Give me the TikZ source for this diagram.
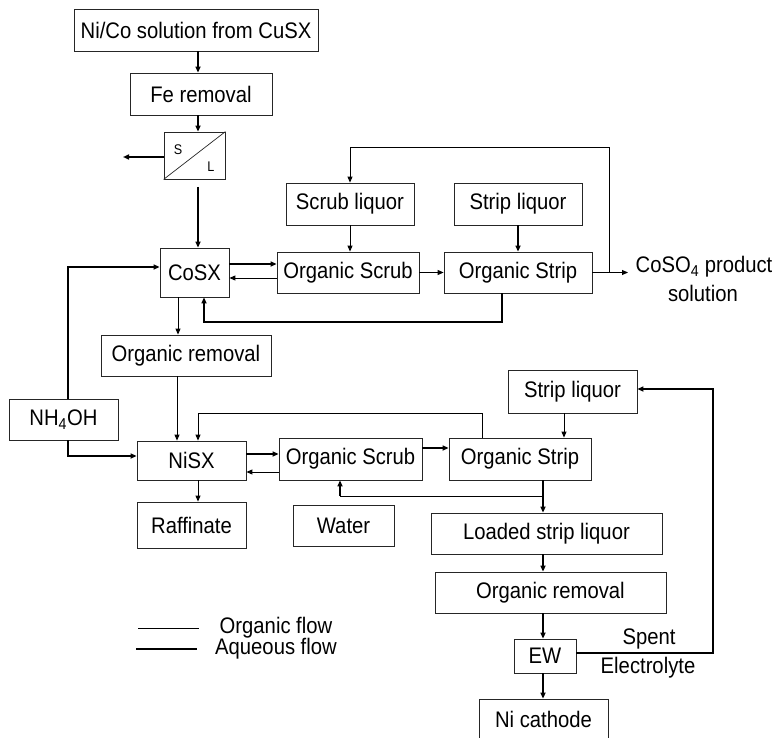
\documentclass[tikz,border=0pt]{standalone}
\usepackage{fontspec}
\setmainfont{Liberation Sans}[FakeStretch=0.9]
\usetikzlibrary{arrows.meta}

\begin{document}
\begin{tikzpicture}[x=1pt,y=-1pt,
  box/.style={draw=black!85, line width=0.8pt, inner sep=0pt, font=\fontsize{22.5}{23}\selectfont},
  lbl/.style={inner sep=0pt, font=\fontsize{22.5}{23}\selectfont},
  small/.style={inner sep=0pt, font=\fontsize{14}{14}\selectfont},
  org/.style={line width=0.9pt},
  mid/.style={line width=1.5pt},
  aq/.style={line width=2.4pt},
  tip/.style={-{Triangle[length=6pt,width=5pt]}},
]
\useasboundingbox (0,0) rectangle (776,738);

% ---------- feed and iron removal ----------
\node[box,minimum width=244pt,minimum height=42pt] (src) at (196,30) {Ni/Co solution from CuSX};
\node[box,minimum width=142pt,minimum height=42pt] (fe) at (201,94) {Fe removal};
\node[draw=black!85,line width=0.8pt,inner sep=0pt,minimum width=61pt,minimum height=47pt] (sl) at (194.5,155.5) {};
\draw[line width=0.7pt,black!85] (sl.south west) -- (sl.north east);
\node[small] (slS) at (178,150) {S};
\node[small] (slL) at (211,167) {L};

% ---------- cobalt circuit ----------
\node[box,minimum width=69pt,minimum height=49pt] (cosx) at (194.5,272.5) {CoSX};
\node[box,minimum width=142pt,minimum height=41pt] (coscrub) at (348,272.5) {Organic Scrub};
\node[box,minimum width=148pt,minimum height=41pt] (costrip) at (518,272.5) {Organic Strip};
\node[box,minimum width=128pt,minimum height=42pt] (scrubliq) at (350,204) {Scrub liquor};
\node[box,minimum width=128pt,minimum height=42pt] (stripliq) at (518,204) {Strip liquor};
\node[box,minimum width=170pt,minimum height=41pt] (orgrem1) at (186,355.5) {Organic removal};
\node[lbl] (coso) at (704,267) {CoSO\textsubscript{4} product};
\node[lbl] (cosol) at (703,293) {solution};

% ---------- nickel circuit ----------
\node[box,minimum width=109pt,minimum height=41pt] (nh4oh) at (63.5,419.5) {NH\textsubscript{4}OH};
\node[box,minimum width=109pt,minimum height=39pt] (nisx) at (191.5,460.5) {NiSX};
\node[box,minimum width=143pt,minimum height=42pt] (niscrub) at (350.5,459) {Organic Scrub};
\node[box,minimum width=142pt,minimum height=42pt] (nistrip) at (520,459) {Organic Strip};
\node[box,minimum width=129pt,minimum height=43pt] (nistripliq) at (572.5,391.5) {Strip liquor};
\node[box,minimum width=231pt,minimum height=41pt] (loaded) at (546.5,533.5) {Loaded strip liquor};
\node[box,minimum width=109pt,minimum height=46pt] (raff) at (191.5,525) {Raffinate};
\node[box,minimum width=101pt,minimum height=41pt] (water) at (343.5,525.5) {Water};
\node[box,minimum width=231pt,minimum height=41pt] (orgrem2) at (550.5,592.5) {Organic removal};
\node[box,minimum width=62pt,minimum height=34pt] (ew) at (545,656) {EW};
\node[box,minimum width=129pt,minimum height=40pt] (cathode) at (543.5,719) {Ni cathode};
\node[lbl] (spent) at (649,639) {Spent};
\node[lbl] (electro) at (648,668) {Electrolyte};

% ---------- helper coordinates ----------
\coordinate (xa) at (198,0);
\coordinate (solids) at (123,157);
\coordinate (liq) at (198,187);
\coordinate (xorg) at (178,0);
\coordinate (xorgb) at (177,0);
\coordinate (prod) at (628,272.5);
\coordinate (brk) at (609,147);
\coordinate (coret) at (204,322);
\coordinate (nhx) at (68,0);
\coordinate (nup) at (482,413);
\coordinate (nret) at (198,413);
\coordinate (xsl) at (564,0);
\coordinate (xn) at (543,0);
\coordinate (wj) at (543,496);
\coordinate (wk) at (340,496);
\coordinate (se) at (713,389);

% ---------- feed connectors ----------
\draw[mid,tip] (src.south -| xa) -- (fe.north -| xa);
\draw[mid,tip] (fe.south -| xa) -- (sl.north -| xa);
\draw[aq,tip] (sl.west |- solids) -- (solids);
\draw[aq,tip] (liq) -- (liq |- cosx.north);

% ---------- cobalt connectors ----------
\draw[aq,tip] ([yshift=8.5pt]cosx.east) -- ([yshift=8.5pt]cosx.east -| coscrub.west);
\draw[org,tip] ([yshift=-5.5pt]cosx.east -| coscrub.west) -- ([yshift=-5.5pt]cosx.east);
\draw[org,tip] (coscrub.east) -- (costrip.west);
\draw[org,tip] (scrubliq.south) -- (scrubliq.south |- coscrub.north);
\draw[aq,tip] (stripliq.south) -- (stripliq.south |- costrip.north);
\draw[org,tip] (costrip.east) -- (prod);
\draw[org,tip] (brk |- costrip.east) -- (brk) -| (scrubliq.north);
\draw[mid,tip] ([xshift=-16pt]costrip.south) |- (coret) -- (coret |- cosx.south);
\draw[org,tip] (cosx.south -| xorg) -- (orgrem1.north -| xorg);
\draw[org,tip] (orgrem1.south -| xorgb) -- (nisx.north -| xorgb);

% ---------- ammonia connectors ----------
\draw[aq,tip] (nh4oh.north -| nhx) |- ([yshift=5.5pt]cosx.west);
\draw[aq,tip] (nh4oh.south -| nhx) |- ([yshift=4.5pt]nisx.west);

% ---------- nickel connectors ----------
\draw[aq,tip] ([yshift=6.5pt]nisx.east) -- ([yshift=6.5pt]nisx.east -| niscrub.west);
\draw[org,tip] ([yshift=-11.5pt]nisx.east -| niscrub.west) -- ([yshift=-11.5pt]nisx.east);
\draw[org,tip] (nisx.south -| xa) -- (raff.north -| xa);
\draw[aq,tip] ([yshift=11pt]niscrub.east) -- ([yshift=11pt]niscrub.east -| nistrip.west);
\draw[org,tip] (nistrip.north -| nup) -- (nup) -- (nret) -- (nret |- nisx.north);
\draw[org,tip] (nistripliq.south -| xsl) -- (nistrip.north -| xsl);
\draw[aq,tip] (nistrip.south -| xn) -- (loaded.north -| xn);
\draw[org] (wj) -- (wk);
\draw[mid,tip] (wk) -- (wk |- niscrub.south);
\draw[aq,tip] (loaded.south -| xn) -- (orgrem2.north -| xn);
\draw[aq,tip] (orgrem2.south -| xn) -- (ew.north -| xn);
\draw[aq,tip] (ew.south -| xn) -- (cathode.north -| xn);
\draw[aq] ([yshift=3pt]ew.east) -| (se |- spent.south);
\draw[mid,tip] (se |- spent.south) -- (se) -- (se -| nistripliq.east);

% ---------- legend ----------
\coordinate (lg1a) at (138,628);
\coordinate (lg1b) at (199,628);
\coordinate (lg2a) at (136,649);
\coordinate (lg2b) at (197,649);
\draw[org] (lg1a) -- (lg1b);
\draw[aq] (lg2a) -- (lg2b);
\node[lbl] (lgorg) at (276,628) {Organic flow};
\node[lbl] (lgaq) at (276,649) {Aqueous flow};
\end{tikzpicture}
\end{document}
